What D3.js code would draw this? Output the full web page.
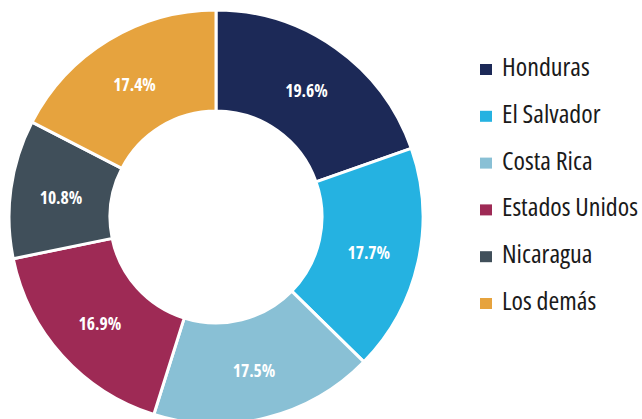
<!DOCTYPE html>
<html>
<head>
<meta charset="utf-8">
<script src="https://cdn.jsdelivr.net/npm/d3@7"></script>
<style>
  body { margin: 0; background: #fff; }
  svg text { font-family: "Open Sans", "Noto Sans", sans-serif; font-stretch: 75%; }
</style>
</head>
<body>
<svg id="chart" width="642" height="419"></svg>
<script>
const countries = ['Honduras', 'El Salvador', 'Costa Rica', 'Estados Unidos', 'Nicaragua', 'Los demás'];
const shares = [19.6, 17.7, 17.5, 16.9, 10.8, 17.4];
const colors = ['#1c2957', '#25b2e1', '#89c0d5', '#9e2a55', '#404f5a', '#e6a33e'];

const data = countries.map((c, i) => ({ name: c, value: shares[i] }));

const svg = d3.select('#chart');
const cx = 216, cy = 217;
const outerR = 207, innerR = 106;

const color = d3.scaleOrdinal().domain(countries).range(colors);

const pie = d3.pie()
    .value(d => d.value)
    .sort(null);

const arc = d3.arc()
    .innerRadius(innerR)
    .outerRadius(outerR);

let g = svg.append('g')
    .attr('transform', `translate(${cx}, ${cy})`);

let slices = g.selectAll('g.slice')
    .data(pie(data))
    .enter()
    .append('g')
    .attr('class', 'slice');

slices.append('path')
    .attr('d', arc)
    .attr('fill', d => color(d.data.name))
    .attr('stroke', '#fff')
    .attr('stroke-width', 3);

slices.append('text')
    .attr('transform', d => `translate(${arc.centroid(d)})`)
    .attr('text-anchor', 'middle')
    .attr('dy', '0.45em')
    .attr('fill', '#fff')
    .attr('font-weight', 700)
    .attr('font-size', 17.5)
    .text(d => d.data.value.toFixed(1) + '%');

// legend (y is the text baseline)
let legend = svg.append('g')
    .selectAll('g')
    .data(countries)
    .enter()
    .append('g')
    .attr('transform', (d, i) => `translate(480, ${76 + i * 46.8})`);

legend.append('rect')
    .attr('x', 0)
    .attr('y', -12)
    .attr('width', 12)
    .attr('height', 11)
    .attr('fill', d => color(d));

legend.append('text')
    .attr('x', 22)
    .attr('font-size', 26)
    .attr('fill', '#1a1a1a')
    .text(d => d);
</script>
</body>
</html>
